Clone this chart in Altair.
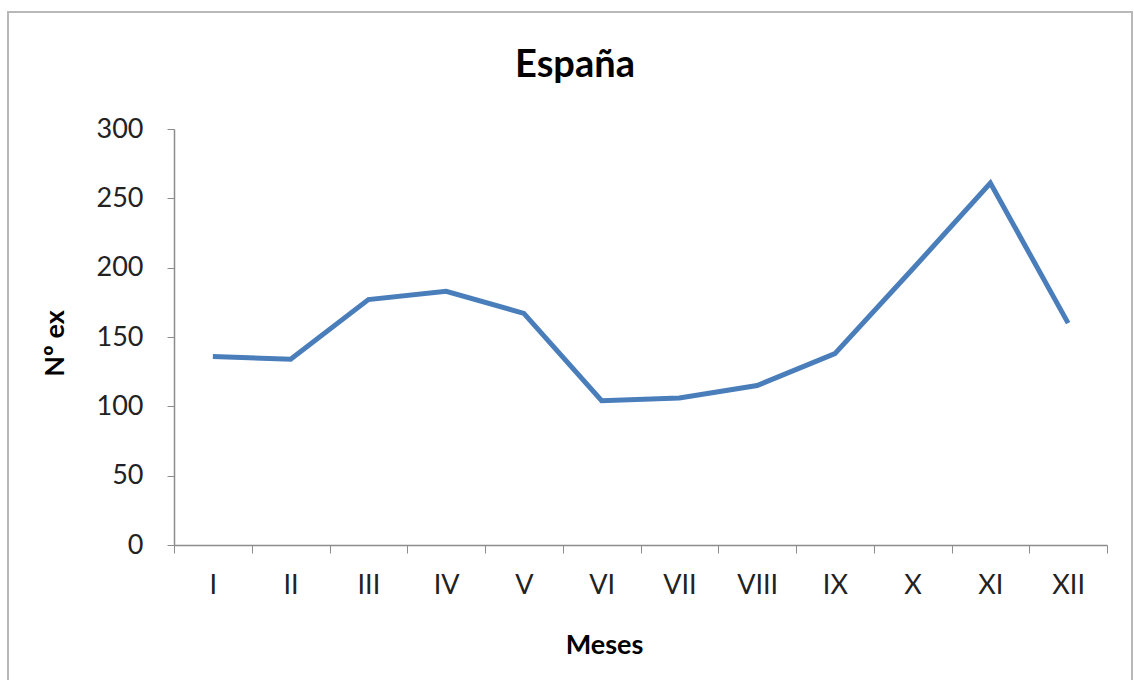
import altair as alt
import pandas as pd

titulo = "España"
meses = ["I", "II", "III", "IV", "V", "VI", "VII", "VIII", "IX", "X", "XI", "XII"]
valores = [136, 134, 177, 183, 167, 104, 106, 115, 138, 199, 261, 160]

df = pd.DataFrame({"mes": meses, "n": valores})

FONT = "Lato"

border = alt.Chart(pd.DataFrame({"a": [0]})).mark_rect(
    fill=None, stroke="#b8b8b8", strokeWidth=2
).encode(
    x=alt.value(-166), x2=alt.value(958), y=alt.value(-117), y2=alt.value(600)
)

title_mark = alt.Chart(pd.DataFrame({"t": [titulo]})).mark_text(
    font=FONT, fontSize=38, fontWeight="bold", color="#000000",
    align="center", baseline="alphabetic",
).encode(
    x=alt.value(401), y=alt.value(-52), text="t:N"
)

line = alt.Chart(df).mark_line(color="#4a7ebb", strokeWidth=5).encode(
    x=alt.X(
        "mes:N",
        sort=meses,
        bandPosition=0.5,
        scale=alt.Scale(type="band", paddingInner=0, paddingOuter=0),
        axis=alt.Axis(
            title="Meses",
            labelAngle=0,
            tickBand="extent",
            tickSize=8,
            labelPadding=19,
            labelFontSize=27,
            labelFont=FONT,
            labelColor="#222222",
            titleFont=FONT,
            titleFontSize=27,
            titleFontWeight="bold",
            titleColor="#000000",
            titleX=430,
            titleY=100,
            titleBaseline="middle",
            domainColor="#8c8c8c",
            tickColor="#8c8c8c",
            domainWidth=1.5,
        ),
    ),
    y=alt.Y(
        "n:Q",
        scale=alt.Scale(domain=[0, 300], nice=False),
        axis=alt.Axis(
            title="Nº ex",
            values=[0, 50, 100, 150, 200, 250, 300],
            grid=False,
            tickSize=7,
            labelPadding=24,
            labelFontSize=27,
            labelFont=FONT,
            labelColor="#222222",
            titleFont=FONT,
            titleFontSize=27,
            titleFontWeight="bold",
            titleColor="#000000",
            titleAngle=-90,
            titleX=-119,
            titleY=214,
            titleAlign="center",
            titleBaseline="middle",
            domainColor="#8c8c8c",
            tickColor="#8c8c8c",
            domainWidth=1.5,
        ),
    ),
)

chart = alt.layer(border, title_mark, line).properties(
    width=933,
    height=416,
    background="white",
    autosize=alt.AutoSizeParams(type="none"),
    padding={"left": 174, "top": 129, "right": 27, "bottom": 135},
).configure_view(strokeWidth=0, stroke="transparent")

chart.save("out.html", embed_options={"renderer": "svg", "actions": False})
